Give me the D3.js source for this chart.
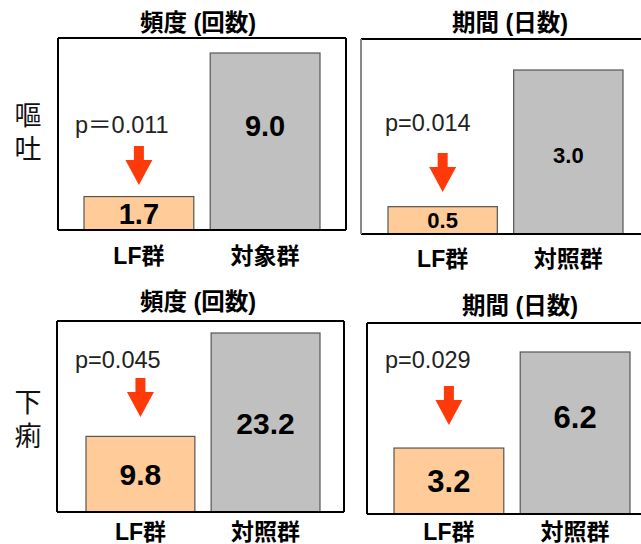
<!DOCTYPE html>
<html>
<head>
<meta charset="utf-8">
<script src="https://cdn.jsdelivr.net/npm/d3@7"></script>
<style>
  body { margin: 0; background: #fff; }
  svg { display: block; }
</style>
</head>
<body>
<script>
// dados de cada painel (ordem: vômito-frequência, vômito-duração, diarreia-frequência, diarreia-duração)
const rowLabels = ["嘔吐", "下痢"];
const panelTitles = ["頻度 (回数)", "期間 (日数)", "頻度 (回数)", "期間 (日数)"];
const groupLabels = [["LF群", "対象群"], ["LF群", "対照群"], ["LF群", "対照群"], ["LF群", "対照群"]];
const lfValues = [1.7, 0.5, 9.8, 3.2];
const controlValues = [9.0, 3.0, 23.2, 6.2];
const pLabels = ["p＝0.011", "p=0.014", "p=0.045", "p=0.029"];

const W = 641, H = 544;
const FONT = "'Liberation Sans', Arial, 'Noto Sans CJK JP', sans-serif";
const CJK = "'Noto Sans CJK JP', 'Liberation Sans', sans-serif";
const ORANGE = '#FFCC99', GREY = '#C0C0C0', RED = '#FF3A0A';

// posições de cada painel (só layout)
const LAYOUT = [
  {x0: 58,  x1: 346, y0: 38,  y1: 230, bx0: 84,  bx1: 320, top: 53,  yMin: 0,    val: 29, ctrlDy: -16, tx: 198, ty: 23,  px: 75,  py: 125, arrow: 146, catY: 256, left: '#000', right: true},
  {x0: 361, x1: 650, y0: 39,  y1: 234, bx0: 388, bx1: 623, top: 70,  yMin: 0,    val: 22, ctrlDy: 3,   tx: 510, ty: 23,  px: 385, py: 123, arrow: 153, catY: 259, left: '#888', right: false},
  {x0: 57,  x1: 344, y0: 321, y1: 512, bx0: 86,  bx1: 320, top: 333, yMin: 0,    val: 30, ctrlDy: 1,   tx: 198, ty: 302, px: 75,  py: 360, arrow: 378, catY: 532, left: '#000', right: true},
  {x0: 367, x1: 650, y0: 323, y1: 514, bx0: 394, bx1: 630, top: 352, yMin: 1.14, val: 31, ctrlDy: -16, tx: 520, ty: 306, px: 385, py: 360, arrow: 386, catY: 532, left: '#000', right: false}
];

const $svg = d3.select('body').append('svg')
  .attr('width', W)
  .attr('height', H);

// rótulos das linhas (escrita vertical)
const ROW_TOP = [101, 388];
rowLabels.forEach((lab, r) => {
  $svg.append('text')
    .attr('x', 28)
    .attr('y', ROW_TOP[r])
    .style('writing-mode', 'vertical-rl')
    .style('font-family', CJK)
    .style('font-size', '27px')
    .style('letter-spacing', '7px')
    .style('fill', '#111')
    .text(lab);
});

LAYOUT.forEach((L, i) => {
  const g = $svg.append('g');
  const data = [
    {group: groupLabels[i][0], value: lfValues[i], fill: ORANGE},
    {group: groupLabels[i][1], value: controlValues[i], fill: GREY}
  ];

  const x = d3.scaleBand()
    .domain(data.map(d => d.group))
    .range([L.bx0, L.bx1])
    .paddingInner(0.13)
    .paddingOuter(0);

  const y = d3.scaleLinear()
    .domain([L.yMin, controlValues[i]])
    .range([L.y1, L.top]);

  // barras
  g.selectAll('rect.bar')
    .data(data)
    .enter()
    .append('rect')
    .attr('class', 'bar')
    .attr('x', d => x(d.group))
    .attr('y', d => y(d.value))
    .attr('width', x.bandwidth())
    .attr('height', d => L.y1 - y(d.value))
    .attr('fill', d => d.fill)
    .attr('stroke', '#555')
    .attr('stroke-width', 1.2);

  // moldura
  g.append('line').attr('x1', L.x0).attr('x2', L.x1).attr('y1', L.y0).attr('y2', L.y0)
    .attr('stroke', '#000').attr('stroke-width', 2);
  g.append('line').attr('x1', L.x0).attr('x2', L.x1).attr('y1', L.y1).attr('y2', L.y1)
    .attr('stroke', '#000').attr('stroke-width', 2);
  g.append('line').attr('x1', L.x0).attr('x2', L.x0).attr('y1', L.y0).attr('y2', L.y1)
    .attr('stroke', L.left).attr('stroke-width', 2);
  if (L.right) {
    g.append('line').attr('x1', L.x1).attr('x2', L.x1).attr('y1', L.y0).attr('y2', L.y1)
      .attr('stroke', '#000').attr('stroke-width', 2);
  }

  // valores dentro das barras
  g.selectAll('text.val')
    .data(data)
    .enter()
    .append('text')
    .attr('class', 'val')
    .attr('x', d => x(d.group) + x.bandwidth() / 2)
    .attr('y', (d, k) => (y(d.value) + L.y1) / 2 + (k === 1 ? L.ctrlDy : 0))
    .attr('dy', '0.36em')
    .attr('text-anchor', 'middle')
    .style('font-family', FONT)
    .style('font-weight', 'bold')
    .style('font-size', L.val + 'px')
    .style('fill', '#000')
    .text(d => d.value.toFixed(1));

  // título
  g.append('text')
    .attr('x', L.tx)
    .attr('y', L.ty)
    .attr('dy', '0.36em')
    .attr('text-anchor', 'middle')
    .style('font-family', FONT)
    .style('font-weight', 'bold')
    .style('font-size', '23.5px')
    .text(panelTitles[i]);

  // categorias
  g.selectAll('text.cat')
    .data(data)
    .enter()
    .append('text')
    .attr('class', 'cat')
    .attr('x', d => x(d.group) + x.bandwidth() / 2)
    .attr('y', L.catY)
    .attr('dy', '0.36em')
    .attr('text-anchor', 'middle')
    .style('font-family', FONT)
    .style('font-weight', 'bold')
    .style('font-size', '23px')
    .text(d => d.group);

  // valor p
  g.append('text')
    .attr('x', L.px)
    .attr('y', L.py)
    .attr('dy', '0.36em')
    .style('font-family', FONT)
    .style('font-size', '23.5px')
    .style('fill', '#222')
    .text(pLabels[i]);

  // seta para baixo
  const cx = x(data[0].group) + x.bandwidth() / 2;
  const t = L.arrow;
  g.append('path')
    .attr('d', `M${cx - 5},${t} L${cx + 5},${t} L${cx + 5},${t + 14} L${cx + 13.5},${t + 14} L${cx},${t + 39} L${cx - 13.5},${t + 14} L${cx - 5},${t + 14} Z`)
    .attr('fill', RED);
});
</script>
</body>
</html>
